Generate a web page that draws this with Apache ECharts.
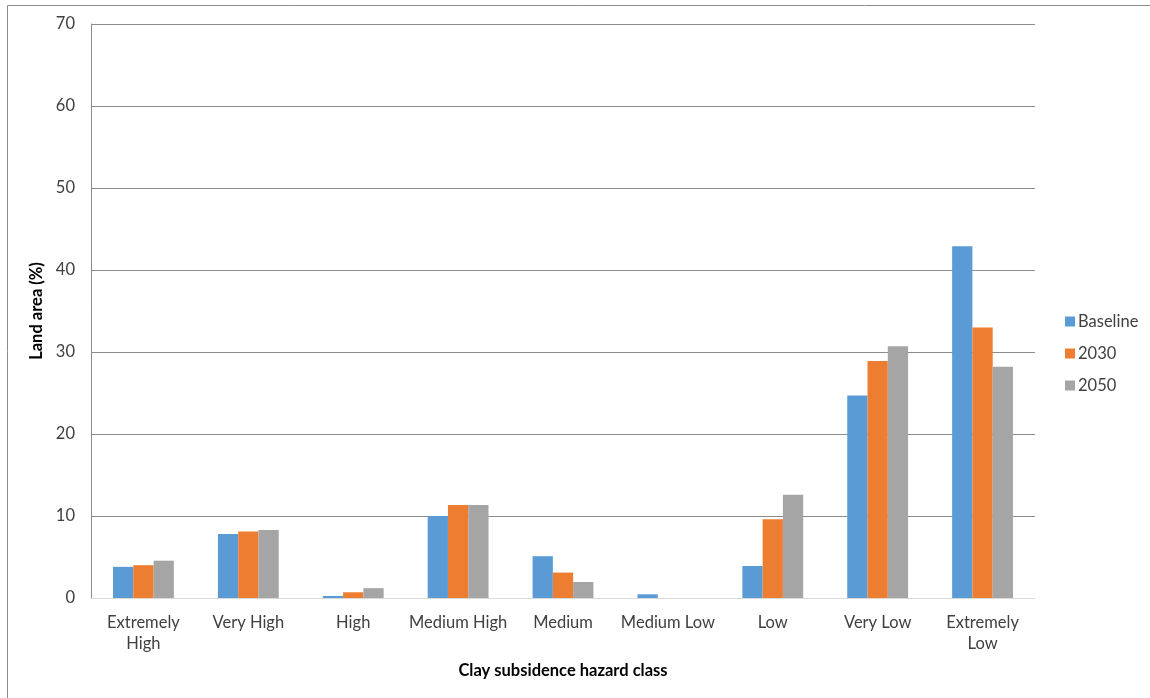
<!DOCTYPE html>
<html>
<head>
<meta charset="utf-8">
<script src="https://cdn.jsdelivr.net/npm/echarts@6/dist/echarts.min.js"></script>
<style>
  html, body { margin: 0; padding: 0; background: #fff; }
  #chart { width: 1150px; height: 698px; }
</style>
</head>
<body>
<div id="chart"></div>
<script>
// Hazard classes along the x axis
const categories = ['Extremely\nHigh', 'Very High', 'High', 'Medium High', 'Medium', 'Medium Low', 'Low', 'Very Low', 'Extremely\nLow'];
// Share of land area (%) in each class
const baseline = [3.8, 7.8, 0.25, 10.0, 5.1, 0.45, 3.9, 24.7, 42.9];
const y2030 = [4.0, 8.1, 0.7, 11.35, 3.1, 0, 9.6, 28.9, 33.0];
const y2050 = [4.55, 8.3, 1.2, 11.35, 1.95, 0, 12.6, 30.7, 28.2];
const seriesNames = ['Baseline', '2030', '2050'];
const colors = ['#5b9bd5', '#ed7d31', '#a5a5a5'];

const font = 'Lato, "Open Sans", sans-serif';
const chart = echarts.init(document.getElementById('chart'));

chart.setOption({
  animation: false,
  textStyle: { fontFamily: font },
  color: colors,
  graphic: [{
    type: 'polyline',
    shape: { points: [[7.5, 698], [7.5, 5.5], [1150, 5.5]] },
    style: { stroke: '#8c8c8c', lineWidth: 1, fill: null },
    silent: true
  }],
  grid: { left: 91, right: 115, top: 24, bottom: 100 },
  legend: {
    orient: 'vertical',
    left: 1060,
    top: 308,
    itemWidth: 10,
    itemHeight: 10,
    itemGap: 15,
    icon: 'rect',
    data: seriesNames,
    textStyle: { fontSize: 16.5, color: '#404040', fontFamily: font, padding: [0, 0, 0, -2] }
  },
  xAxis: {
    type: 'category',
    data: categories,
    name: 'Clay subsidence hazard class',
    nameLocation: 'middle',
    nameGap: 64,
    nameTextStyle: { fontSize: 16.5, fontWeight: 'bold', color: '#000', fontFamily: font },
    axisLine: { lineStyle: { color: '#d9d9d9', width: 1 } },
    axisTick: { show: false },
    axisLabel: { fontSize: 16.5, color: '#404040', margin: 14, lineHeight: 21, interval: 0, fontFamily: font }
  },
  yAxis: {
    type: 'value',
    min: 0,
    max: 70,
    interval: 10,
    name: 'Land area (%)',
    nameLocation: 'middle',
    nameGap: 36,
    nameRotate: 90,
    nameTextStyle: { fontSize: 16.5, fontWeight: 'bold', color: '#000', fontFamily: font },
    axisLine: { show: true, lineStyle: { color: '#8c8c8c', width: 1 } },
    axisTick: { show: false },
    splitLine: { lineStyle: { color: '#8c8c8c', width: 1 } },
    axisLabel: { fontSize: 16.5, color: '#404040', margin: 16, fontFamily: font }
  },
  series: [
    { name: seriesNames[0], type: 'bar', data: baseline, barGap: '0%', barCategoryGap: '42%' },
    { name: seriesNames[1], type: 'bar', data: y2030, barGap: '0%', barCategoryGap: '42%' },
    { name: seriesNames[2], type: 'bar', data: y2050, barGap: '0%', barCategoryGap: '42%' }
  ]
});
</script>
</body>
</html>
